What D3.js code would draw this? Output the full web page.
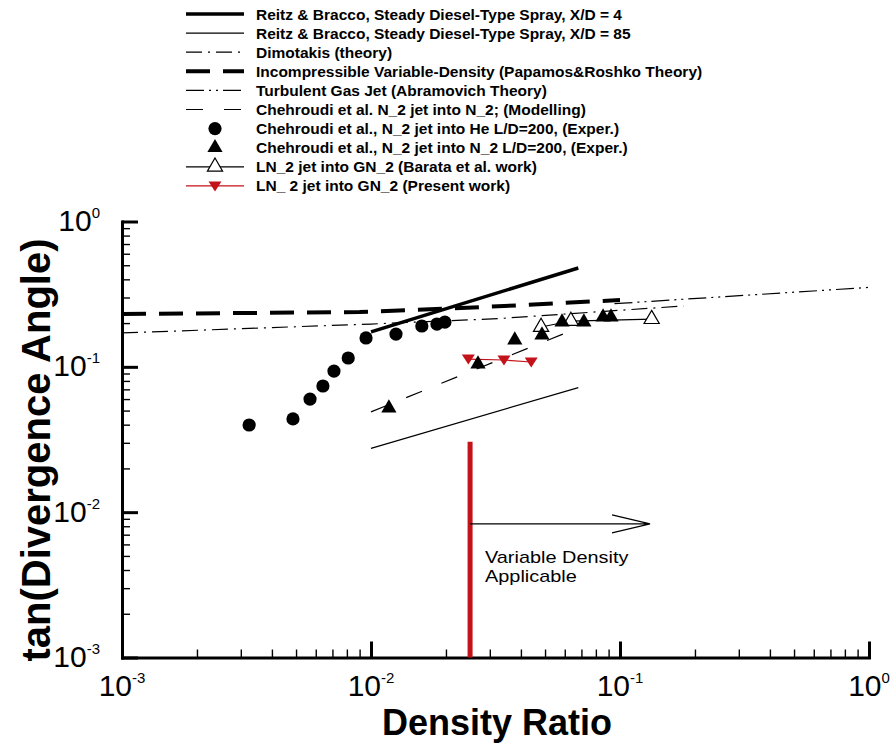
<!DOCTYPE html>
<html>
<head>
<meta charset="utf-8">
<script src="https://cdn.jsdelivr.net/npm/d3@7"></script>
<style>
	html, body { margin: 0; padding: 0; background: #fff; }
	svg { display: block; font-family: "Liberation Sans", Arial, sans-serif; }
</style>
</head>
<body>
<svg id="main-svg" width="892" height="743"></svg>
<script>

// [ density ratio, tan(divergence angle) ]
var reitzXD4 = [ [ 0.01, 0.174 ], [ 0.068, 0.479 ] ];
var reitzXD85 = [ [ 0.01, 0.0275 ], [ 0.068, 0.072 ] ];
var dimotakis = [ [ 0.001, 0.171 ], [ 0.01, 0.197 ], [ 0.033, 0.215 ], [ 0.1, 0.245 ], [ 0.18, 0.262 ] ];
var incompressible = [ [ 0.001, 0.231 ], [ 0.009, 0.238 ], [ 0.0144, 0.246 ], [ 0.028, 0.258 ],
	[ 0.0415, 0.266 ], [ 0.06, 0.276 ], [ 0.1, 0.288 ] ];
var abramovich = [ [ 0.095, 0.272 ], [ 1.0, 0.352 ] ];
var modelling = [ [ 0.01, 0.049 ], [ 0.06, 0.17 ] ];

var heExper = [ [ 0.00324, 0.0398 ], [ 0.00486, 0.0438 ], [ 0.00569, 0.060 ], [ 0.00641, 0.0738 ],
	[ 0.0071, 0.0935 ], [ 0.0081, 0.115 ], [ 0.00955, 0.158 ], [ 0.0126, 0.168 ],
	[ 0.016, 0.191 ], [ 0.0184, 0.197 ], [ 0.0198, 0.203 ] ];
var n2Exper = [ [ 0.0118, 0.052 ], [ 0.0269, 0.1045 ], [ 0.0378, 0.153 ], [ 0.0486, 0.1656 ],
	[ 0.0585, 0.203 ], [ 0.0716, 0.203 ], [ 0.0855, 0.220 ], [ 0.092, 0.220 ] ];
var barata = [ [ 0.0482, 0.188 ], [ 0.0635, 0.2066 ], [ 0.134, 0.213 ] ];
var presentWork = [ [ 0.0246, 0.113 ], [ 0.0342, 0.1114 ], [ 0.044, 0.108 ] ];

var majorTicks = [ 0.001, 0.01, 0.1, 1 ];
var majorTickExps = [ '-3', '-2', '-1', '0' ];

var legendLabels = [
	'Reitz & Bracco, Steady Diesel-Type Spray, X/D = 4',
	'Reitz & Bracco, Steady Diesel-Type Spray, X/D = 85',
	'Dimotakis (theory)',
	'Incompressible Variable-Density (Papamos&Roshko Theory)',
	'Turbulent Gas Jet (Abramovich Theory)',
	'Chehroudi et al. N_2 jet into N_2; (Modelling)',
	'Chehroudi et al., N_2 jet into He L/D=200, (Exper.)',
	'Chehroudi et al., N_2 jet into N_2 L/D=200, (Exper.)',
	'LN_2 jet into GN_2 (Barata et al. work)',
	'LN_ 2 jet into GN_2 (Present work)'
];

// variable density annotation
var applicableRatio = 0.025,
	applicableTop = 0.0305,
	arrowLevel = 0.0083,
	arrowEnd = 0.132,
	noteAt = [ 0.0287, 0.00447 ],
	noteLines = [ 'Variable Density', 'Applicable' ];


var RED = '#c4121a';

var svg = d3.select( '#main-svg' );

var x = d3.scaleLog().domain( [ 1e-3, 1 ] ).range( [ 122, 869 ] ),
	y = d3.scaleLog().domain( [ 1e-3, 1 ] ).range( [ 657.5, 221.5 ] );

var line = d3.line()
	.x( function ( d ) { return x( d[ 0 ] ); } )
	.y( function ( d ) { return y( d[ 1 ] ); } );

var isMajor = function ( v ) {
	var l = Math.log10( v );
	return Math.abs( l - Math.round( l ) ) < 1e-9;
};
var minorTicks = x.ticks().filter( function ( v ) { return !isMajor( v ); } );


// ---- axes: minor + major ticks point inward
function styleAxis( g, width ) {
	g.selectAll( '.tick line' ).attr( 'stroke', '#000' ).attr( 'stroke-width', width );
	g.selectAll( '.tick text' ).remove();
	g.select( '.domain' ).attr( 'stroke', '#000' ).attr( 'stroke-width', 3 ).attr( 'stroke-linecap', 'square' );
}

svg.append( 'g' )
	.attr( 'transform', 'translate(0,' + y.range()[ 0 ] + ')' )
	.call( d3.axisBottom( x ).tickValues( minorTicks ).tickSize( -8 ).tickSizeOuter( 0 ).tickFormat( '' ) )
	.call( styleAxis, 1.4 )
	.select( '.domain' ).remove();

svg.append( 'g' )
	.attr( 'transform', 'translate(' + x.range()[ 0 ] + ',0)' )
	.call( d3.axisLeft( y ).tickValues( minorTicks ).tickSize( -8 ).tickSizeOuter( 0 ).tickFormat( '' ) )
	.call( styleAxis, 1.4 )
	.select( '.domain' ).remove();

svg.append( 'g' )
	.attr( 'transform', 'translate(0,' + y.range()[ 0 ] + ')' )
	.call( d3.axisBottom( x ).tickValues( majorTicks ).tickSize( -16 ).tickSizeOuter( 0 ).tickFormat( '' ) )
	.call( styleAxis, 3 );

svg.append( 'g' )
	.attr( 'transform', 'translate(' + x.range()[ 0 ] + ',0)' )
	.call( d3.axisLeft( y ).tickValues( majorTicks ).tickSize( -16 ).tickSizeOuter( 0 ).tickFormat( '' ) )
	.call( styleAxis, 3 );


// tick labels as 10^n
function powerLabel( sel ) {
	sel.append( 'tspan' ).text( '10' );
	sel.append( 'tspan' )
		.attr( 'font-size', 15 )
		.attr( 'dy', -13 )
		.text( function ( d, i ) { return majorTickExps[ i ]; } );
}

svg.append( 'g' ).selectAll( 'text' )
	.data( majorTicks ).enter()
	.append( 'text' )
	.attr( 'x', function ( d ) { return x( d ); } )
	.attr( 'y', y.range()[ 0 ] + 38 )
	.attr( 'text-anchor', 'middle' )
	.attr( 'font-size', 30 )
	.call( powerLabel );

svg.append( 'g' ).selectAll( 'text' )
	.data( majorTicks ).enter()
	.append( 'text' )
	.attr( 'x', x.range()[ 0 ] - 22 )
	.attr( 'y', function ( d ) { return y( d ) + 9.5; } )
	.attr( 'text-anchor', 'end' )
	.attr( 'font-size', 30 )
	.call( powerLabel );

svg.append( 'text' )
	.attr( 'x', 497 )
	.attr( 'y', 735 )
	.attr( 'text-anchor', 'middle' )
	.attr( 'font-size', 36 )
	.attr( 'font-weight', 'bold' )
	.text( 'Density Ratio' );

svg.append( 'text' )
	.attr( 'transform', 'translate(50,450) rotate(-90)' )
	.attr( 'text-anchor', 'middle' )
	.attr( 'font-size', 40 )
	.attr( 'font-weight', 'bold' )
	.text( 'tan(Divergence Angle)' );


// ---- variable density marker
svg.append( 'line' )
	.attr( 'x1', x( applicableRatio ) ).attr( 'x2', x( applicableRatio ) )
	.attr( 'y1', y( 1e-3 ) ).attr( 'y2', y( applicableTop ) )
	.attr( 'stroke', RED ).attr( 'stroke-width', 5 );

var ax0 = x( applicableRatio ), ax1 = x( arrowEnd ), ay = y( arrowLevel );
svg.append( 'path' )
	.attr( 'd', 'M' + ax0 + ',' + ay + 'H' + ax1 +
		'M' + ( ax1 - 38 ) + ',' + ( ay - 9 ) + 'L' + ax1 + ',' + ay + 'L' + ( ax1 - 38 ) + ',' + ( ay + 9 ) )
	.attr( 'fill', 'none' ).attr( 'stroke', '#000' ).attr( 'stroke-width', 1.2 );

// the original lettering is a bit wide, so stretch it sideways
var nx = x( noteAt[ 0 ] ), ny = y( noteAt[ 1 ] );
svg.append( 'g' )
	.attr( 'transform', 'translate(' + nx + ',' + ny + ') scale(1.17,1)' )
	.selectAll( 'text' )
	.data( noteLines ).enter()
	.append( 'text' )
	.attr( 'x', 0 )
	.attr( 'y', function ( d, i ) { return i * 19.5; } )
	.attr( 'font-size', 17 )
	.text( function ( d ) { return d; } );


// ---- curves
var curves = [
	{ data: reitzXD4, width: 3.5, dash: null },
	{ data: reitzXD85, width: 1.2, dash: null },
	{ data: dimotakis, width: 1.2, dash: '16,6,2,6' },
	{ data: incompressible, width: 4, dash: '24,13' },
	{ data: abramovich, width: 1.2, dash: '18,5,2,5,2,5' },
	{ data: modelling, width: 1.2, dash: '17,21' },
	null,
	null,
	{ data: barata, width: 1.2, dash: null },
	{ data: presentWork, width: 1.2, dash: null, color: RED }
];

curves.forEach( function ( c ) {
	if ( !c ) return;
	svg.append( 'path' )
		.datum( c.data )
		.attr( 'd', line )
		.attr( 'fill', 'none' )
		.attr( 'stroke', c.color || '#000' )
		.attr( 'stroke-width', c.width )
		.attr( 'stroke-dasharray', c.dash );
} );


// ---- markers
var upTri = d3.symbol( d3.symbolTriangle, 100 ),
	downTri = 'M-6.5,-4.5L6.5,-4.5L0,5.5Z';

function drawMarkers( g, data, kind ) {
	var sel = g.selectAll( null ).data( data ).enter();
	if ( kind === 'circle' ) {
		sel.append( 'circle' )
			.attr( 'cx', function ( d ) { return x( d[ 0 ] ); } )
			.attr( 'cy', function ( d ) { return y( d[ 1 ] ); } )
			.attr( 'r', 6.6 ).attr( 'fill', '#000' );
		return;
	}
	sel.append( 'path' )
		.attr( 'transform', function ( d ) { return 'translate(' + x( d[ 0 ] ) + ',' + y( d[ 1 ] ) + ')'; } )
		.attr( 'd', kind === 'down' ? downTri : upTri )
		.attr( 'fill', kind === 'open' ? '#fff' : ( kind === 'down' ? RED : '#000' ) )
		.attr( 'stroke', kind === 'open' ? '#000' : 'none' )
		.attr( 'stroke-width', 1.2 );
}

var marks = svg.append( 'g' );
drawMarkers( marks, heExper, 'circle' );
drawMarkers( marks, barata, 'open' );
drawMarkers( marks, n2Exper, 'filled' );
drawMarkers( marks, presentWork, 'down' );


// ---- legend
var legendKinds = [ null, null, null, null, null, null, 'circle', 'filled', 'open', 'down' ];
var lx0 = 186, lx1 = 244, lxText = 256, ly0 = 14, lyStep = 19.1;

var legend = svg.append( 'g' );
legendLabels.forEach( function ( label, i ) {
	var ly = ly0 + i * lyStep,
		c = curves[ i ],
		kind = legendKinds[ i ];

	if ( c ) {
		legend.append( 'line' )
			.attr( 'x1', lx0 ).attr( 'x2', lx1 )
			.attr( 'y1', ly ).attr( 'y2', ly )
			.attr( 'stroke', c.color || '#000' )
			.attr( 'stroke-width', c.width )
			.attr( 'stroke-dasharray', c.dash );
	}
	if ( kind ) {
		var mx = x.invert( ( lx0 + lx1 ) / 2 ), my = y.invert( ly );
		drawMarkers( legend, [ [ mx, my ] ], kind );
	}
	legend.append( 'text' )
		.attr( 'x', lxText )
		.attr( 'y', ly + 5.5 )
		.attr( 'font-size', 15.5 )
		.attr( 'font-weight', 'bold' )
		.text( label );
} );

</script>
</body>
</html>
